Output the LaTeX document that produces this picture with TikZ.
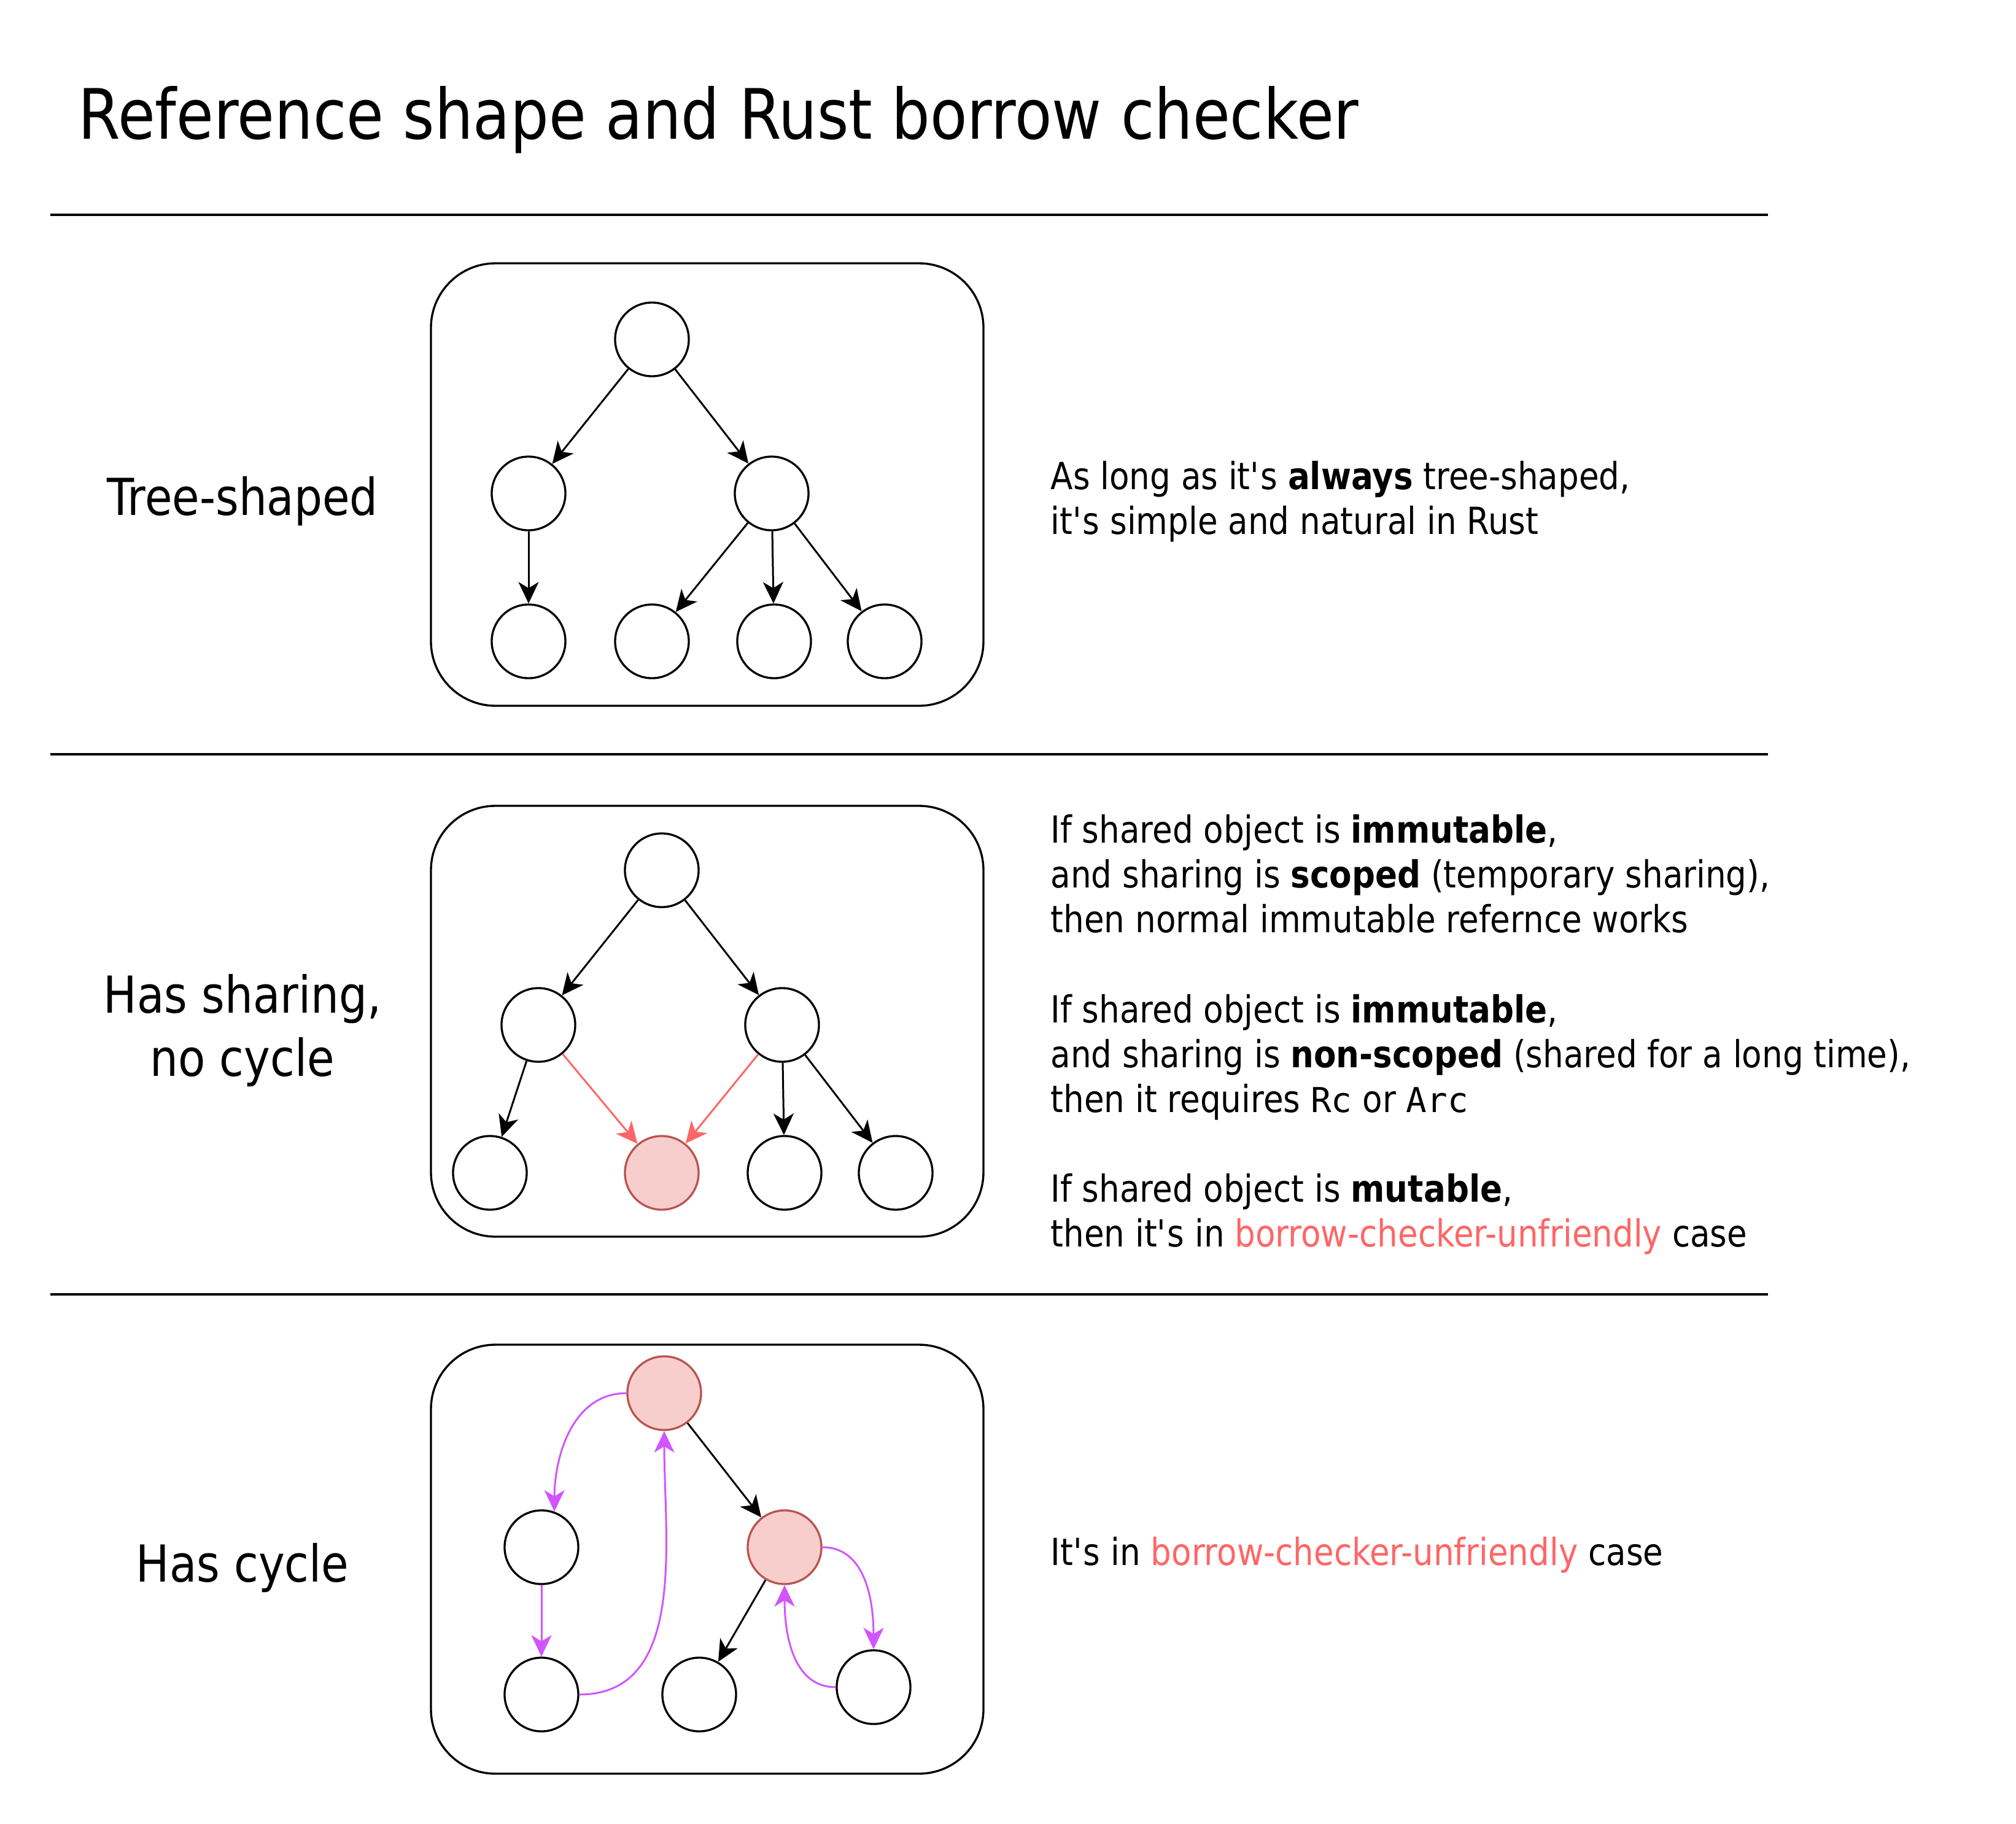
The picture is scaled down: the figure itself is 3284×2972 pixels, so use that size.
\documentclass[tikz,border=0pt]{standalone}
\usepackage{fontspec}
\setmainfont{DejaVu Sans}[FakeStretch=0.873]
\setmonofont{DejaVu Sans Mono}[Scale=0.92]
\usetikzlibrary{arrows.meta}
\definecolor{sharedfill}{HTML}{F8CECC}
\definecolor{sharedline}{HTML}{B85450}
\definecolor{badred}{HTML}{FF6666}
\definecolor{cyclepurple}{HTML}{D155FF}
\newcommand{\ap}{\textquotesingle}
\newcommand{\sepline}[1]{
  \draw[line width=0.95pt] (82,#1) -- (2880,#1);% Draw separator
}
\newcommand{\panel}[2]{
  \draw[line width=0.95pt, rounded corners=1.05cm] (702,#1) rectangle (1602,#2);
}

\begin{document}
\begin{tikzpicture}[x=0.01cm, y=-0.01cm,
    obj/.style={circle, draw, line width=0.95pt, minimum size=1.2cm, inner sep=0pt},
    sharedobj/.style={obj, draw=sharedline, fill=sharedfill},
    ref/.style={-{Stealth[length=0.35cm, width=0.33cm, inset=0.1cm]}, line width=0.85pt},
    label/.style={font=\fontsize{23.6}{29.3}\selectfont, align=center, inner sep=0pt},
    note/.style={font=\fontsize{17.3}{20.8}\selectfont, align=left, anchor=west, inner sep=0pt}]
  \useasboundingbox (0,0) rectangle (3284,2972);

  \node[anchor=base west, inner sep=0pt, font=\fontsize{32.2}{38}\selectfont] (title)
    at (127,226) {Reference shape and Rust borrow checker};

  \sepline{350}
  \sepline{1229}
  \sepline{2109}

  % Tree-shaped
  \node[label] (lab1) at (395,817) {Tree-shaped};
  \panel{429}{1150}
  \node[obj] (t0) at (1062,553) {};
  \node[obj] (t1) at (861,804) {};
  \node[obj] (t2) at (1257,804) {};
  \node[obj] (t3) at (861,1045) {};
  \node[obj] (t4) at (1062,1045) {};
  \node[obj] (t5) at (1261,1045) {};
  \node[obj] (t6) at (1441,1045) {};
  \foreach \a/\b in {t0/t1,t0/t2,t1/t3,t2/t4,t2/t5,t2/t6}
    \draw[ref] (\a) -- (\b);
  \node[note] (note1) at (1711,817)
    {As long as it\ap s \textbf{always} tree-shaped,\\it\ap s simple and natural in Rust};

  % Has sharing, no cycle
  \node[label] (lab2) at (395,1679) {Has sharing,\\no cycle};
  \panel{1313}{2015}
  \node[obj] (s0) at (1078,1418) {};
  \node[obj] (s1) at (877,1670) {};
  \node[obj] (s2) at (1274,1670) {};
  \node[obj] (s3) at (798,1911) {};
  \node[sharedobj] (s4) at (1078,1911) {};
  \node[obj] (s5) at (1278,1911) {};
  \node[obj] (s6) at (1459,1911) {};
  \foreach \a/\b in {s0/s1,s0/s2,s1/s3,s2/s5,s2/s6}
    \draw[ref] (\a) -- (\b);
  \draw[ref, badred] (s1) -- (s4);
  \draw[ref, badred] (s2) -- (s4);
  \node[note] (note2) at (1711,1686)
    {If shared object is \textbf{immutable},\\
     and sharing is \textbf{scoped} (temporary sharing),\\
     then normal immutable refernce works\\[20.8pt]
     If shared object is \textbf{immutable},\\
     and sharing is \textbf{non-scoped} (shared for a long time),\\
     then it requires \texttt{Rc} or \texttt{Arc}\\[20.8pt]
     If shared object is \textbf{mutable},\\
     then it\ap s in \textcolor{badred}{borrow-checker-unfriendly} case};

  % Has cycle
  \node[label] (lab3) at (395,2555) {Has cycle};
  \panel{2191}{2890}
  \node[sharedobj] (c0) at (1082,2270) {};
  \node[obj] (c1) at (882,2521) {};
  \node[sharedobj] (c2) at (1278,2521) {};
  \node[obj] (c3) at (882,2761) {};
  \node[obj] (c4) at (1139,2761) {};
  \node[obj] (c5) at (1423,2749) {};
  \draw[ref] (c0) -- (c2);
  \draw[ref] (c2) -- (c4);
  \draw[ref, cyclepurple] (c0.west) to[out=180, in=90] (c1.70);
  \draw[ref, cyclepurple] (c1) -- (c3);
  \draw[ref, cyclepurple] (c3.east) to[out=0, in=-90] (c0.south);
  \draw[ref, cyclepurple] (c2.east) to[out=0, in=90] (c5.north);
  \draw[ref, cyclepurple] (c5.west) to[out=180, in=-90] (c2.south);
  \node[note] (note3) at (1711,2534)
    {It\ap s in \textcolor{badred}{borrow-checker-unfriendly} case};
\end{tikzpicture}
\end{document}
